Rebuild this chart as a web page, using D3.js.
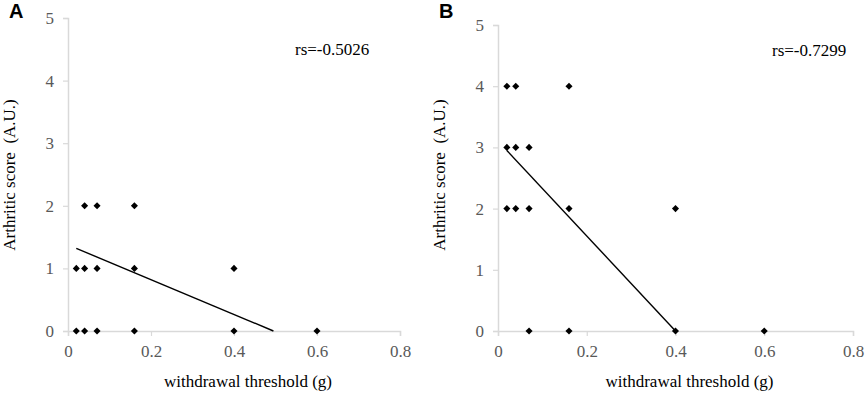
<!DOCTYPE html>
<html>
<head>
<meta charset="utf-8">
<script src="https://cdn.jsdelivr.net/npm/d3@7"></script>
<style>
  body { margin: 0; background: #fff; }
</style>
</head>
<body>
<div id="plot-container"></div>
<script>
// panel A
const xA = [0.02, 0.04, 0.07, 0.16, 0.4, 0.6, 0.02, 0.04, 0.07, 0.16, 0.4, 0.04, 0.07, 0.16];
const yA = [0, 0, 0, 0, 0, 0, 1, 1, 1, 1, 1, 2, 2, 2];
const trendA = [[0.02, 1.32], [0.495, 0]];
const rsA = "rs=-0.5026";

// panel B
const xB = [0.02, 0.04, 0.16, 0.02, 0.04, 0.07, 0.02, 0.04, 0.07, 0.16, 0.4, 0.07, 0.16, 0.4, 0.6];
const yB = [4, 4, 4, 3, 3, 3, 2, 2, 2, 2, 2, 0, 0, 0, 0];
const trendB = [[0.02, 2.95], [0.4, 0]];
const rsB = "rs=-0.7299";

const xTicks = [0, 0.2, 0.4, 0.6, 0.8];
const yTicks = [0, 1, 2, 3, 4, 5];

const svg = d3.select("#plot-container")
    .append("svg")
    .attr("width", 865)
    .attr("height", 394);

const serif = '"Liberation Serif", "Times New Roman", serif';

function drawPanel(opts) {
    const g = svg.append("g");

    const x = d3.scaleLinear().domain([0, 0.8]).range([opts.left, opts.right]);
    const y = d3.scaleLinear().domain([0, 5]).range([opts.bottom, opts.top]);

    const xAxis = g.append("g")
        .attr("transform", "translate(0," + opts.bottom + ")")
        .call(d3.axisBottom(x).tickValues(xTicks).tickFormat(d => d === 0 ? "0" : d3.format(".1f")(d)).tickSize(5).tickPadding(9));
    const yAxis = g.append("g")
        .attr("transform", "translate(" + opts.left + ",0)")
        .call(d3.axisLeft(y).tickValues(yTicks).tickFormat(d3.format("d")).tickSize(5).tickPadding(9));

    [xAxis, yAxis].forEach(a => {
        a.attr("font-family", serif).attr("font-size", 17);
        a.select(".domain").attr("stroke", "#d9d9d9").attr("stroke-width", 1.5);
        a.selectAll(".tick line").attr("stroke", "#d9d9d9").attr("stroke-width", 1.2);
        a.selectAll(".tick text").attr("fill", "#595959");
    });

    g.append("text")
        .attr("x", (opts.left + opts.right) / 2 + 14)
        .attr("y", 387)
        .attr("text-anchor", "middle")
        .attr("font-family", serif)
        .attr("font-size", 17)
        .attr("fill", "#000")
        .text("withdrawal threshold (g)");

    g.append("text")
        .attr("transform", "translate(" + (opts.left - 53) + "," + 175 + ") rotate(-90)")
        .attr("text-anchor", "middle")
        .attr("font-family", serif)
        .attr("font-size", 17)
        .attr("fill", "#000")
        .text("Arthritic score\u00a0 (A.U.)");

    g.append("text")
        .attr("x", opts.rsX)
        .attr("y", opts.rsY)
        .attr("font-family", serif)
        .attr("font-size", 17)
        .attr("fill", "#000")
        .text(opts.rs);

    g.append("text")
        .attr("x", opts.left - 59)
        .attr("y", 18)
        .attr("font-family", '"Liberation Sans", Arial, sans-serif')
        .attr("font-weight", "bold")
        .attr("font-size", 20)
        .attr("fill", "#000")
        .text(opts.letter);

    g.append("path")
        .datum(opts.trend)
        .attr("fill", "none")
        .attr("stroke", "#000")
        .attr("stroke-width", 1.4)
        .attr("d", d3.line().x(d => x(d[0])).y(d => y(d[1])));

    const pts = opts.xs.map((v, i) => [v, opts.ys[i]]);
    g.selectAll("path.pt")
        .data(pts)
        .enter()
        .append("path")
        .attr("class", "pt")
        .attr("transform", d => "translate(" + x(d[0]) + "," + y(d[1]) + ")")
        .attr("d", d3.symbol().type(d3.symbolDiamond2).size(32))
        .attr("fill", "#000");
}

drawPanel({ letter: "A", left: 68, right: 400, top: 18, bottom: 331, xs: xA, ys: yA, trend: trendA, rs: rsA, rsX: 295, rsY: 55 });
drawPanel({ letter: "B", left: 498, right: 853, top: 25, bottom: 331, xs: xB, ys: yB, trend: trendB, rs: rsB, rsX: 772, rsY: 56 });
</script>
</body>
</html>
